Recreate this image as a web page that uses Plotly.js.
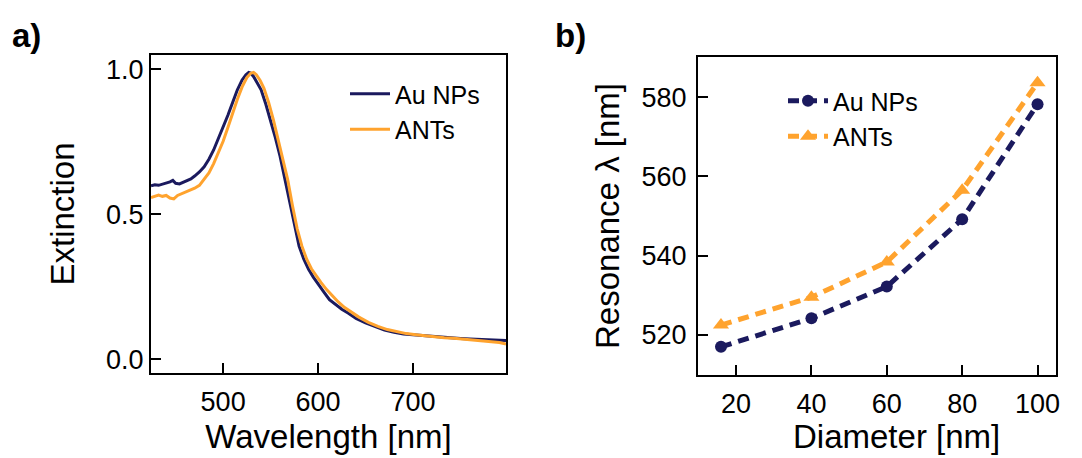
<!DOCTYPE html>
<html>
<head>
<meta charset="utf-8">
<script src="https://cdn.plot.ly/plotly-3.0.1.min.js"></script>
<style>
  html, body { margin: 0; padding: 0; background: #ffffff; }
  #chart { width: 1082px; height: 458px; }
</style>
</head>
<body>
<div id="chart"></div>
<script>
// (a) Extinction spectra, normalised
const auWavelength = [424,428,432,436,440,444,447,450,454,458,462,466,470,475,480,485,490,495,500,505,510,515,520,524,527,529,532,536,540,545,550,555,560,565,570,575,580,585,590,595,600,606,612,618,625,632,640,650,660,670,680,690,700,710,720,730,740,750,760,770,780,790,798];
const auExtinction = [0.598,0.602,0.600,0.604,0.606,0.612,0.617,0.607,0.605,0.610,0.615,0.622,0.632,0.646,0.664,0.690,0.722,0.760,0.800,0.842,0.886,0.930,0.964,0.982,0.990,0.988,0.976,0.955,0.930,0.880,0.825,0.765,0.700,0.620,0.550,0.470,0.390,0.345,0.310,0.283,0.258,0.232,0.205,0.190,0.172,0.158,0.140,0.125,0.112,0.100,0.093,0.087,0.084,0.081,0.078,0.075,0.073,0.071,0.069,0.068,0.067,0.066,0.064];

const antWavelength = [424,428,432,436,440,444,448,452,456,460,465,470,475,480,485,490,495,500,505,510,515,520,525,529,532,535,539,543,548,553,558,563,568,573,578,583,588,593,598,603,609,615,621,628,635,643,653,663,673,683,693,703,713,723,733,743,753,763,773,783,791,798];
const antExtinction = [0.558,0.563,0.566,0.562,0.565,0.556,0.553,0.565,0.570,0.576,0.583,0.590,0.600,0.620,0.643,0.675,0.712,0.752,0.800,0.850,0.897,0.940,0.972,0.987,0.990,0.982,0.962,0.935,0.885,0.825,0.760,0.695,0.620,0.530,0.450,0.390,0.345,0.312,0.287,0.265,0.240,0.218,0.198,0.178,0.163,0.145,0.127,0.113,0.102,0.094,0.088,0.084,0.080,0.077,0.074,0.072,0.069,0.066,0.064,0.060,0.057,0.052];

// (b) Plasmon resonance position versus particle diameter
const diameters = [16, 40, 60, 80, 100];
const auResonance = [517.0, 524.2, 532.2, 549.2, 578.2];
const antResonance = [522.5, 529.5, 538.4, 556.5, 583.6];

const seriesNames = ['Au NPs', 'ANTs'];
const NAVY = '#1b1a5e';
const ORANGE = '#ffa32e';
const FONT = 'Liberation Sans, Arial, sans-serif';

const traces = [
  { x: auWavelength, y: auExtinction, name: seriesNames[0], type: 'scatter', mode: 'lines',
    line: { color: NAVY, width: 3 }, xaxis: 'x', yaxis: 'y', legend: 'legend' },
  { x: antWavelength, y: antExtinction, name: seriesNames[1], type: 'scatter', mode: 'lines',
    line: { color: ORANGE, width: 3 }, xaxis: 'x', yaxis: 'y', legend: 'legend' },
  { x: diameters, y: auResonance, name: seriesNames[0], type: 'scatter', mode: 'lines+markers',
    line: { color: NAVY, width: 5, dash: '11px,7px' },
    marker: { symbol: 'circle', size: 12, color: NAVY },
    xaxis: 'x2', yaxis: 'y2', legend: 'legend2' },
  { x: diameters, y: antResonance, name: seriesNames[1], type: 'scatter', mode: 'lines+markers',
    line: { color: ORANGE, width: 5, dash: '11px,7px' },
    marker: { symbol: 'triangle-up', size: 14, color: ORANGE },
    xaxis: 'x2', yaxis: 'y2', legend: 'legend2' }
];

const W = 1082, H = 458;
const axisCommon = {
  showline: true, mirror: true, linecolor: '#000', linewidth: 2,
  ticks: 'inside', ticklen: 10, tickwidth: 2, tickcolor: '#000',
  showgrid: false, zeroline: false, automargin: false,
  tickfont: { family: FONT, size: 27, color: '#000' }
};
const titleFont = { family: FONT, size: 33, color: '#000' };

const layout = {
  width: W, height: H,
  margin: { l: 0, r: 0, t: 0, b: 0 },
  paper_bgcolor: '#fff', plot_bgcolor: '#fff',
  font: { family: FONT, color: '#000' },
  xaxis: Object.assign({}, axisCommon, {
    domain: [151 / W, 506 / W], range: [424, 798], tick0: 0, dtick: 100,
    ticklabelstandoff: 4,
    title: { text: 'Wavelength [nm]', font: titleFont, standoff: 8 }
  }),
  yaxis: Object.assign({}, axisCommon, {
    domain: [1 - 373 / H, 1 - 55 / H], range: [-0.048, 1.05], dtick: 0.5, tickformat: '.1f',
    ticklabelstandoff: 0,
    title: { text: 'Extinction', font: titleFont, standoff: 22 }
  }),
  xaxis2: Object.assign({}, axisCommon, {
    domain: [698 / W, 1056 / W], range: [9.9, 104.9], tick0: 0, dtick: 20,
    ticklabelstandoff: 4, anchor: 'y2'
  }),
  yaxis2: Object.assign({}, axisCommon, {
    domain: [1 - 375 / H, 1 - 57 / H], range: [509.9, 590.1], dtick: 20,
    ticklabelstandoff: 4, anchor: 'x2',
    title: { text: 'Resonance λ [nm]', font: titleFont, standoff: 12 }
  }),
  legend: {
    x: 345 / W, y: 1 - 71 / H, xanchor: 'left', yanchor: 'top',
    bgcolor: 'rgba(0,0,0,0)', font: { family: FONT, size: 25 },
    tracegroupgap: 0, itemwidth: 40
  },
  legend2: {
    x: 783 / W, y: 1 - 78 / H, xanchor: 'left', yanchor: 'top',
    bgcolor: 'rgba(0,0,0,0)', font: { family: FONT, size: 25 },
    tracegroupgap: 0, itemwidth: 40
  },
  annotations: [
    { text: '<b>a)</b>', xref: 'paper', yref: 'paper', x: 10 / W, y: 1 - 35 / H,
      xanchor: 'left', yanchor: 'middle', showarrow: false, font: { family: FONT, size: 33 } },
    { text: '<b>b)</b>', xref: 'paper', yref: 'paper', x: 553 / W, y: 1 - 35 / H,
      xanchor: 'left', yanchor: 'middle', showarrow: false, font: { family: FONT, size: 33 } },
    { text: 'Diameter [nm]', xref: 'paper', yref: 'paper', x: 897 / W, y: 1 / H,
      xanchor: 'center', yanchor: 'bottom', showarrow: false, font: titleFont }
  ]
};

Plotly.newPlot('chart', traces, layout, { displayModeBar: false, staticPlot: true });
</script>
</body>
</html>
